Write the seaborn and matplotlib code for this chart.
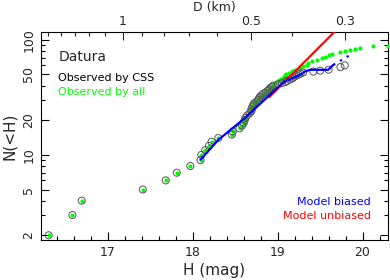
import numpy as np
import seaborn as sns
import matplotlib
matplotlib.use("Agg")
import matplotlib.pyplot as plt
from matplotlib.ticker import MultipleLocator, FixedLocator, NullFormatter

# observed by all (green dots): H and cumulative number
h_all = [16.30, 16.58, 16.69, 17.41, 17.68, 17.81, 17.97, 18.09, 18.10, 18.145,
         18.19, 18.22, 18.30, 18.46, 18.47, 18.55, 18.58, 18.60, 18.61, 18.62,
         18.64, 18.67, 18.69, 18.69, 18.70, 18.71, 18.72, 18.75, 18.77, 18.78,
         18.79, 18.81, 18.83, 18.86, 18.88, 18.90, 18.91, 18.93, 18.95, 18.96,
         18.97, 18.99, 19.00, 19.02, 19.04, 19.06, 19.08, 19.09, 19.10, 19.13,
         19.17, 19.20, 19.26, 19.30, 19.34, 19.36, 19.40, 19.46, 19.52, 19.56,
         19.60, 19.635, 19.73, 19.79, 19.85, 19.91, 19.97, 20.12, 20.30]
n_all = list(range(2, 51)) + [52, 54, 55, 57, 59, 61, 63, 65, 67, 69, 71, 74,
                              76, 79, 80, 82, 83, 85, 88, 89]

# observed by CSS (open circles)
h_css = h_all[:39] + [19.00, 19.05, 19.09, 19.11, 19.14, 19.17, 19.18, 19.20,
                      19.22, 19.25, 19.27, 19.30, 19.42, 19.50, 19.60, 19.74, 19.79]
n_css = list(range(2, 41)) + [41, 42, 43, 44, 45, 46, 47, 48, 49, 50, 51, 52,
                              53, 54, 55, 58, 60]

# model curves
h_biased = [18.09, 18.30, 18.60, 19.07, 19.26, 19.32, 19.38, 19.595, 19.655]
n_biased = [9.1, 13.5, 20.5, 43.0, 49.6, 53.0, 54.9, 54.9, 60.6]
h_biased_ext = [19.655, 19.89]
n_biased_ext = [60.6, 76.6]
h_unbiased = [18.90, 19.72]
n_unbiased = [31.7, 128.0]

# top axis: diameter ticks (km) and H where D = 1 km
d_major = [1, 0.5, 0.3]
d_minor = [1.5, 1.4, 1.3, 1.2, 1.1, 0.9, 0.8, 0.7, 0.6, 0.4]
h_d1 = 17.176

sns.set_style("ticks")
plt.rcParams['font.family'] = ['DejaVu Sans']

fig = plt.figure(figsize=(3.9, 2.8), dpi=100)
ax = fig.add_axes([41 / 390, 1 - 240 / 280, 347 / 390, 208 / 280])

sns.scatterplot(x=h_all, y=n_all, ax=ax, color="#00ff00", s=9, linewidth=0, zorder=3)
sns.scatterplot(x=h_css, y=n_css, ax=ax, facecolor="none", edgecolor="#555555",
                s=26, linewidth=0.7, zorder=4)
sns.lineplot(x=h_unbiased, y=n_unbiased, ax=ax, color="red", linewidth=1.5,
             sort=False, estimator=None, zorder=5)
sns.lineplot(x=h_biased, y=n_biased, ax=ax, color="blue", linewidth=1.6,
             sort=False, estimator=None, zorder=6)
sns.lineplot(x=h_biased_ext, y=n_biased_ext, ax=ax, color="blue", linewidth=1.6,
             linestyle=(0, (1, 2.5)), sort=False, estimator=None, zorder=6)

ax.set_yscale("log")
ax.set_xlim(16.21, 20.30)
ax.set_ylim(1.82, 117)

ax.xaxis.set_major_locator(MultipleLocator(1))
ax.xaxis.set_minor_locator(MultipleLocator(0.2))
ax.yaxis.set_major_locator(FixedLocator([2, 5, 10, 20, 50, 100]))
ax.yaxis.set_minor_locator(FixedLocator([3, 4, 6, 7, 8, 9, 30, 40, 60, 70, 80, 90]))
ax.yaxis.set_major_formatter(matplotlib.ticker.FuncFormatter(lambda v, p: "%g" % v))
ax.yaxis.set_minor_formatter(NullFormatter())

ax.tick_params(which="both", direction="in", top=False, right=True,
               labelsize=9, color="black", width=0.8, pad=4)
ax.tick_params(which="major", length=6)
ax.tick_params(which="minor", length=3)
ax.tick_params(axis="y", labelrotation=90)
for lab in ax.get_yticklabels():
    lab.set_va("center")

for spine in ax.spines.values():
    spine.set_edgecolor("black")
    spine.set_linewidth(0.8)

ax.set_xlabel("H (mag)", fontsize=11, labelpad=3)
ax.set_ylabel("N(<H)", fontsize=11, labelpad=4)

# top axis in diameter
top = ax.twiny()
top.set_xlim(ax.get_xlim())
top.xaxis.set_major_locator(FixedLocator([h_d1 - 5 * np.log10(d) for d in d_major]))
top.xaxis.set_minor_locator(FixedLocator([h_d1 - 5 * np.log10(d) for d in d_minor]))
top.set_xticklabels(["%g" % d for d in d_major])
top.tick_params(which="both", direction="in", labelsize=9, width=0.8, pad=3)
top.tick_params(which="major", length=6)
top.tick_params(which="minor", length=3)
top.set_xlabel("D (km)", fontsize=9, labelpad=3)
for spine in top.spines.values():
    spine.set_visible(False)

ax.text(0.05, 0.88, "Datura", transform=ax.transAxes, fontsize=10, va="center")
ax.text(0.05, 0.78, "Observed by CSS", transform=ax.transAxes, fontsize=8,
        color="black", va="center")
ax.text(0.05, 0.71, "Observed by all", transform=ax.transAxes, fontsize=8,
        color="#00ff00", va="center")
ax.text(0.95, 0.185, "Model biased", transform=ax.transAxes, fontsize=8,
        color="blue", ha="right", va="center")
ax.text(0.95, 0.115, "Model unbiased", transform=ax.transAxes, fontsize=8,
        color="red", ha="right", va="center")

plt.savefig("out.png", dpi=100)
plt.close()
